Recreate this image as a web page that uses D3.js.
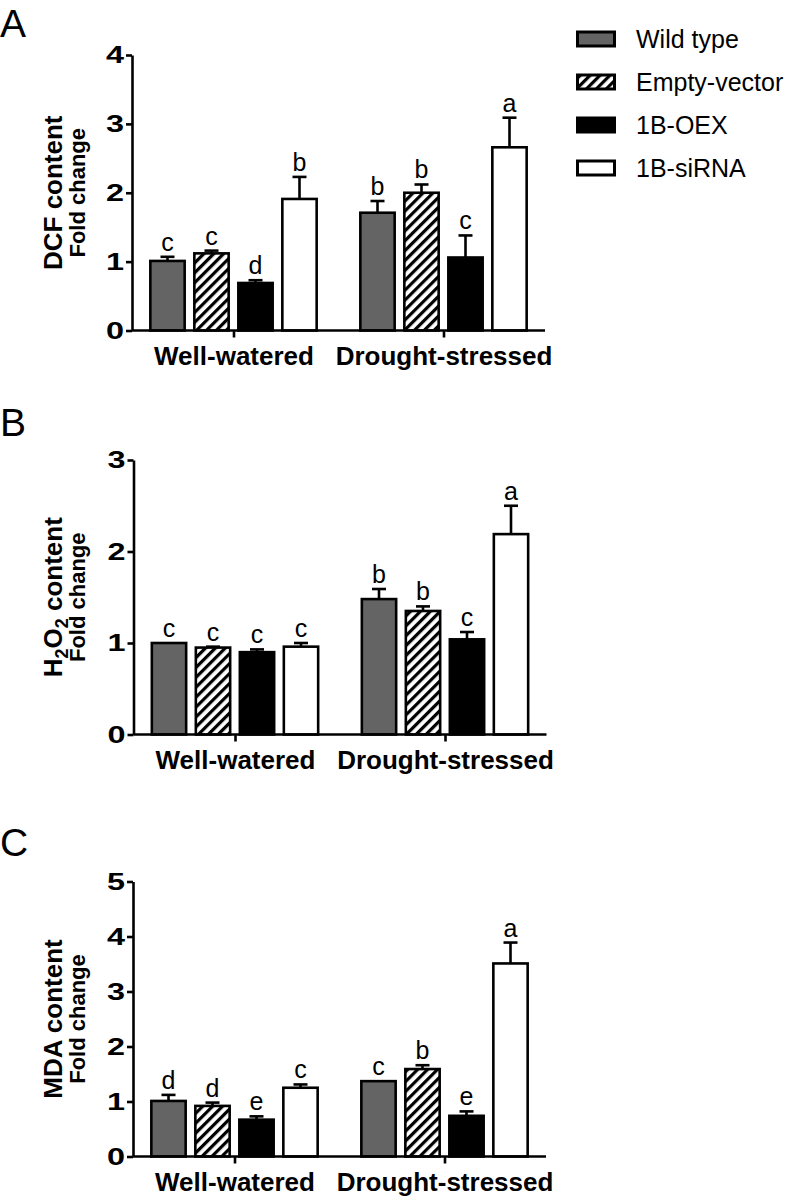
<!DOCTYPE html>
<html>
<head>
<meta charset="utf-8">
<script src="https://cdn.jsdelivr.net/npm/d3@7"></script>
<style>
  body { margin: 0; background: #ffffff; }
  svg { display: block; font-family: "Liberation Sans", Arial, Helvetica, sans-serif; }
</style>
</head>
<body>
<div id="chart"></div>
<script>
const groups = ["Well-watered", "Drought-stressed"];
const series = ["Wild type", "Empty-vector", "1B-OEX", "1B-siRNA"];

// mean values per group (rows) and series (columns)
const dcfMean = [[1.01, 1.12, 0.69, 1.91], [1.71, 2.00, 1.06, 2.66]];
const dcfErr = [[0.06, 0.04, 0.04, 0.32], [0.17, 0.12, 0.32, 0.43]];
const dcfLetters = [["c", "c", "d", "b"], ["b", "b", "c", "a"]];

const h2o2Mean = [[1.00, 0.95, 0.90, 0.96], [1.48, 1.35, 1.04, 2.19]];
const h2o2Err = [[0.00, 0.01, 0.03, 0.04], [0.11, 0.05, 0.08, 0.31]];
const h2o2Letters = [["c", "c", "c", "c"], ["b", "b", "c", "a"]];

const mdaMean = [[1.01, 0.92, 0.67, 1.25], [1.37, 1.59, 0.74, 3.51]];
const mdaErr = [[0.11, 0.06, 0.06, 0.06], [0.00, 0.07, 0.08, 0.38]];
const mdaLetters = [["d", "d", "e", "c"], ["c", "b", "e", "a"]];

const dcfTicks = [0, 1, 2, 3, 4];
const h2o2Ticks = [0, 1, 2, 3];
const mdaTicks = [0, 1, 2, 3, 4, 5];

const width = 787;
const height = 1200;

const svg = d3.select("#chart")
  .append("svg")
  .attr("width", width)
  .attr("height", height);

const defs = svg.append("defs");
const hatch = defs.append("pattern")
  .attr("id", "hatch")
  .attr("patternUnits", "userSpaceOnUse")
  .attr("width", 7)
  .attr("height", 7)
  .attr("patternTransform", "rotate(45)");
hatch.append("rect").attr("width", 7).attr("height", 7).attr("fill", "#ffffff");
hatch.append("rect").attr("width", 3.2).attr("height", 7).attr("fill", "#000000");

const fills = ["#646464", "url(#hatch)", "#000000", "#ffffff"];

function drawPanel(cfg) {
  const g = svg.append("g");

  const y = d3.scaleLinear()
    .domain([0, d3.max(cfg.ticks)])
    .range([cfg.y0, cfg.yTop]);

  const x = d3.scalePoint()
    .domain(groups)
    .range([cfg.axisX + 101.5, cfg.axisX + 311.5]);

  const inner = d3.scaleBand()
    .domain(series)
    .range([-88, 88])
    .paddingInner(0.22)
    .paddingOuter(0.11);

  // panel letter
  g.append("text")
    .attr("x", 0)
    .attr("y", cfg.letterY)
    .attr("font-size", "39px")
    .attr("fill", "#000")
    .text(cfg.panel);

  // bars
  const rows = [];
  groups.forEach((grp, gi) => {
    series.forEach((s, si) => {
      rows.push({
        group: grp,
        series: s,
        si: si,
        value: cfg.mean[gi][si],
        err: cfg.err[gi][si],
        letter: cfg.letters[gi][si]
      });
    });
  });

  g.selectAll(".bar")
    .data(rows)
    .enter()
    .append("rect")
    .attr("x", d => x(d.group) + inner(d.series))
    .attr("y", d => y(d.value))
    .attr("width", inner.bandwidth())
    .attr("height", d => y(0) - y(d.value))
    .attr("fill", d => fills[d.si])
    .attr("stroke", "#000")
    .attr("stroke-width", 2.6);

  // upper error bars
  const errRows = rows.filter(d => d.err > 0);
  const cx = d => x(d.group) + inner(d.series) + inner.bandwidth() / 2;

  g.selectAll(".err")
    .data(errRows)
    .enter()
    .append("line")
    .attr("x1", cx)
    .attr("x2", cx)
    .attr("y1", d => y(d.value))
    .attr("y2", d => y(d.value + d.err))
    .attr("stroke", "#000")
    .attr("stroke-width", 2.6);

  g.selectAll(".cap")
    .data(errRows)
    .enter()
    .append("line")
    .attr("x1", d => cx(d) - 7)
    .attr("x2", d => cx(d) + 7)
    .attr("y1", d => y(d.value + d.err))
    .attr("y2", d => y(d.value + d.err))
    .attr("stroke", "#000")
    .attr("stroke-width", 2.6);

  g.selectAll(".sig")
    .data(rows)
    .enter()
    .append("text")
    .attr("x", cx)
    .attr("y", d => y(d.value + d.err) - 6)
    .attr("text-anchor", "middle")
    .attr("font-size", "25px")
    .attr("fill", "#000")
    .text(d => d.letter);

  // y axis
  const yAxis = g.append("g")
    .attr("transform", `translate(${cfg.axisX},0)`)
    .call(d3.axisLeft(y).tickValues(cfg.ticks).tickFormat(d3.format("d")).tickSize(6).tickSizeOuter(0).tickPadding(2));
  yAxis.select(".domain").attr("stroke-width", 2.6);
  yAxis.selectAll(".tick line").attr("stroke-width", 2.6);
  yAxis.selectAll(".tick text")
    .attr("x", -8 / 1.35)
    .attr("transform", "scale(1.35,1)")
    .attr("font-size", "24px")
    .attr("font-weight", "bold")
    .attr("font-family", "Liberation Sans, Arial, sans-serif")
    .attr("fill", "#000");

  // x axis baseline
  g.append("line")
    .attr("x1", cfg.axisX)
    .attr("x2", cfg.axisX + 413)
    .attr("y1", cfg.y0)
    .attr("y2", cfg.y0)
    .attr("stroke", "#000")
    .attr("stroke-width", 2.6);

  const xAxis = g.append("g")
    .attr("transform", `translate(0,${cfg.y0})`)
    .call(d3.axisBottom(x).tickSize(7).tickPadding(9.5));
  xAxis.select(".domain").remove();
  xAxis.selectAll(".tick line").attr("stroke-width", 2.6);
  xAxis.selectAll(".tick text")
    .attr("font-size", "26px")
    .attr("font-weight", "bold")
    .attr("font-family", "Liberation Sans, Arial, sans-serif")
    .attr("fill", "#000");

  // y labels
  const midY = (cfg.y0 + cfg.yTop) / 2;
  const lab = g.append("text")
    .attr("transform", `translate(62,${midY}) rotate(-90)`)
    .attr("text-anchor", "middle")
    .attr("font-size", "26px")
    .attr("font-weight", "bold")
    .attr("fill", "#000");
  cfg.label.forEach(part => {
    if (part.sub) {
      lab.append("tspan").attr("font-size", "18px").attr("dy", 6).text(part.t);
    } else {
      lab.append("tspan").attr("dy", part.back ? -6 : 0).text(part.t);
    }
  });

  g.append("text")
    .attr("transform", `translate(85,${midY}) rotate(-90)`)
    .attr("text-anchor", "middle")
    .attr("font-size", "22px")
    .attr("font-weight", "bold")
    .attr("fill", "#000")
    .text("Fold change");
}

drawPanel({
  panel: "A", letterY: 37, axisX: 132, y0: 330.5, yTop: 55,
  ticks: dcfTicks, mean: dcfMean, err: dcfErr, letters: dcfLetters,
  label: [{ t: "DCF content" }]
});

drawPanel({
  panel: "B", letterY: 436, axisX: 133.5, y0: 734.5, yTop: 460,
  ticks: h2o2Ticks, mean: h2o2Mean, err: h2o2Err, letters: h2o2Letters,
  label: [{ t: "H" }, { t: "2", sub: true }, { t: "O", back: true }, { t: "2", sub: true }, { t: " content", back: true }]
});

drawPanel({
  panel: "C", letterY: 856, axisX: 133, y0: 1156.5, yTop: 881.5,
  ticks: mdaTicks, mean: mdaMean, err: mdaErr, letters: mdaLetters,
  label: [{ t: "MDA content" }]
});

// legend
const legendRowY = [39, 82, 125, 168];
const legend = svg.append("g");
series.forEach((s, i) => {
  legend.append("rect")
    .attr("x", 577.5)
    .attr("y", legendRowY[i] - 7)
    .attr("width", 37)
    .attr("height", 14)
    .attr("fill", fills[i])
    .attr("stroke", "#000")
    .attr("stroke-width", 3);
  legend.append("text")
    .attr("x", 636)
    .attr("y", legendRowY[i] + 9)
    .attr("font-size", "25px")
    .attr("fill", "#000")
    .text(s);
});
</script>
</body>
</html>
